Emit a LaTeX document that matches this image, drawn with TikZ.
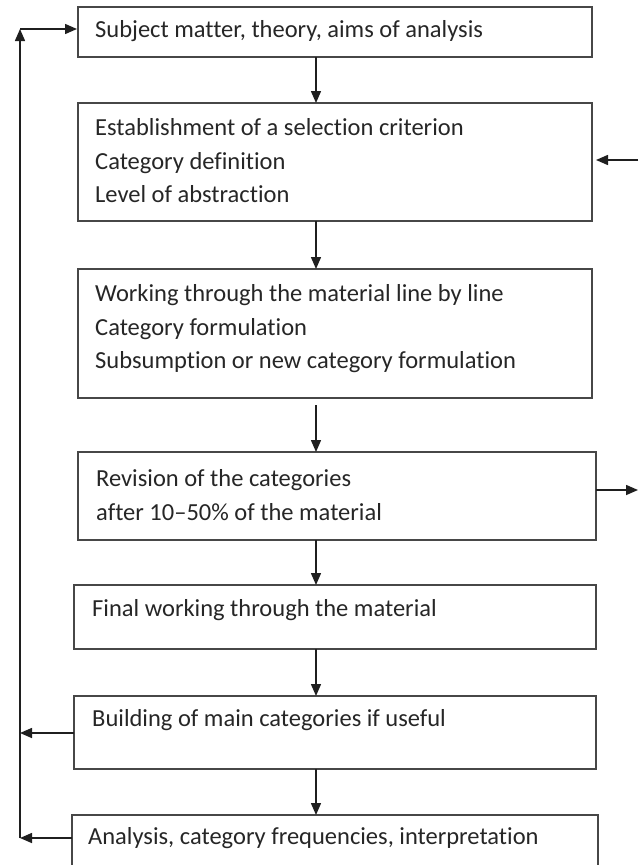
\documentclass[tikz,border=0pt]{standalone}
\usepackage{fontspec}
\setmainfont{Carlito}[Ligatures=NoCommon]
\usetikzlibrary{arrows.meta}
\begin{document}
\begin{tikzpicture}[x=1pt,y=-1pt,
  box/.style={draw=black!72,line width=1.8pt,inner sep=0pt,outer sep=0pt,anchor=north west},
  txt/.style={anchor=west,inner sep=0pt,align=left,text=black!85,font=\fontsize{24.5}{33.5}\selectfont},
  conn/.style={draw=black!88,line width=1.5pt,-{Triangle[length=12pt,width=10pt]}}]
\useasboundingbox (0,0) rectangle (638,865);
\clip (0,0) rectangle (638,865);
% boxes
\node[box,minimum width=514pt,minimum height=50pt]  (b1) at (78,7) {};
\node[box,minimum width=514pt,minimum height=118pt] (b2) at (78,103) {};
\node[box,minimum width=514pt,minimum height=129pt] (b3) at (78,269) {};
\node[box,minimum width=518pt,minimum height=88pt]  (b4) at (78,452) {};
\node[box,minimum width=522pt,minimum height=64pt]  (b5) at (74,585) {};
\node[box,minimum width=522pt,minimum height=73pt]  (b6) at (74,696) {};
\node[box,minimum width=526pt,minimum height=80pt]  (b7) at (72,815) {};
% texts
\node[txt] (t1) at (95,31) {Subject matter, theory, aims of analysis};
\node[txt] (t2) at (95,161) {Establishment of a selection criterion\\Category definition\\Level of abstraction};
\node[txt] (t3) at (95,329) {Working through the material line by line\\Category formulation\\Subsumption or new category formulation};
\node[txt] (t4) at (96,495) {Revision of the categories\\after 10–50\% of the material};
\node[txt] (t5) at (92,610) {Final working through the material};
\node[txt] (t6) at (92,720) {Building of main categories if useful};
\node[txt] (t7) at (88,838) {Analysis, category frequencies, interpretation};
% helper coordinates
\coordinate (ax) at (316,0);
\coordinate (lx) at (20,29);
\coordinate (r2) at (638,160);
\coordinate (r4) at (638,490);
\coordinate (l6) at (20,733);
\coordinate (l7) at (20,838);
% vertical flow
\draw[conn] (b1.south -| ax) -- (b2.north -| ax);
\draw[conn] (b2.south -| ax) -- (b3.north -| ax);
\draw[conn,shorten <=7pt] (b3.south -| ax) -- (b4.north -| ax);
\draw[conn] (b4.south -| ax) -- (b5.north -| ax);
\draw[conn] (b5.south -| ax) -- (b6.north -| ax);
\draw[conn] (b6.south -| ax) -- (b7.north -| ax);
% right side
\draw[conn,shorten >=4pt] (r2) -- (b2.east |- r2);
\draw[conn] (b4.east |- r4) -- (r4);
% left feedback loop
\draw[conn] (b6.west |- l6) -- (l6);
\draw[conn] (b7.west |- l7) -- (l7);
\draw[conn] (l7) -- (lx);
\draw[conn,shorten >=1pt] (lx) -- (b1.west |- lx);
\end{tikzpicture}
\end{document}
